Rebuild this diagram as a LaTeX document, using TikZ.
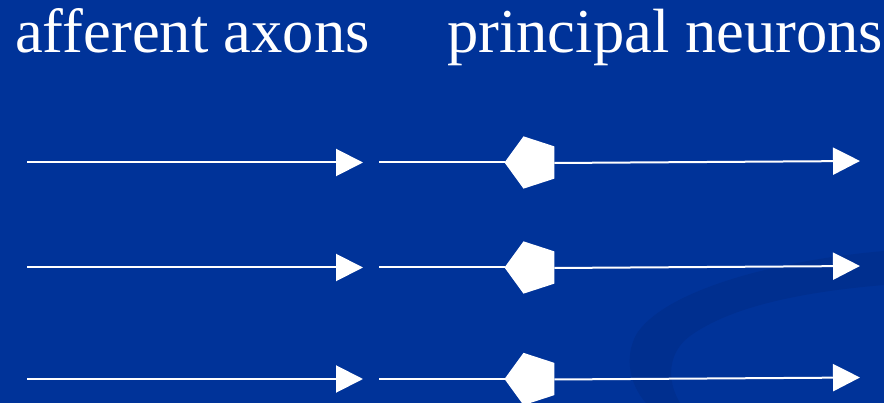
\documentclass[tikz,border=0pt]{standalone}
\usepackage{fontspec}
\setmainfont{Liberation Serif}
\usetikzlibrary{arrows.meta,shapes.geometric}
\definecolor{bgblue}{RGB}{0,51,153}
\definecolor{swoosh}{RGB}{0,47,143}
\tikzset{
  axon/.style={draw=white, line width=2pt},
  axonarrow/.style={axon, -{Triangle[length=27pt,width=27pt]}},
  soma/.style={regular polygon, regular polygon sides=5, shape border rotate=90,
    fill=white, draw=none, minimum size=55pt, inner sep=0pt, outer sep=0pt},
  title/.style={text=white, font=\fontsize{62.5}{62.5}\selectfont, anchor=base west, inner sep=0pt}
}
\begin{document}
\begin{tikzpicture}[x=1pt,y=-1pt]
\fill[bgblue] (0,0) rectangle (884,403);
\useasboundingbox (0,0) rectangle (884,403);
% background swoosh
\fill[swoosh] (884,251) .. controls (760,262) and (660,295) .. (636,335)
  .. controls (624,358) and (630,385) .. (646,403)
  -- (680,403) .. controls (666,380) and (668,352) .. (690,336)
  .. controls (730,307) and (800,292) .. (884,285) -- cycle;
% titles
\node[title] (t1) at (15,53) {afferent axons};
\node[title] (t2) at (447,53) {principal neurons};
% rows
\foreach \i/\y in {1/162.5, 2/267.5, 3/379} {
  \coordinate (s\i) at (27,\y);
  \coordinate (m\i) at (363,\y);
  \coordinate (r\i) at (379,\y);
  \node[soma] (p\i) at (532,\y) {};
  \coordinate (e\i) at (860,\y-1.5);
  \draw[axonarrow] (s\i) -- (m\i);
  \draw[axon] (r\i) -- (p\i.west);
  \draw[axonarrow] ([yshift=-0.5pt]p\i.east) -- (e\i);
}
\end{tikzpicture}
\end{document}
